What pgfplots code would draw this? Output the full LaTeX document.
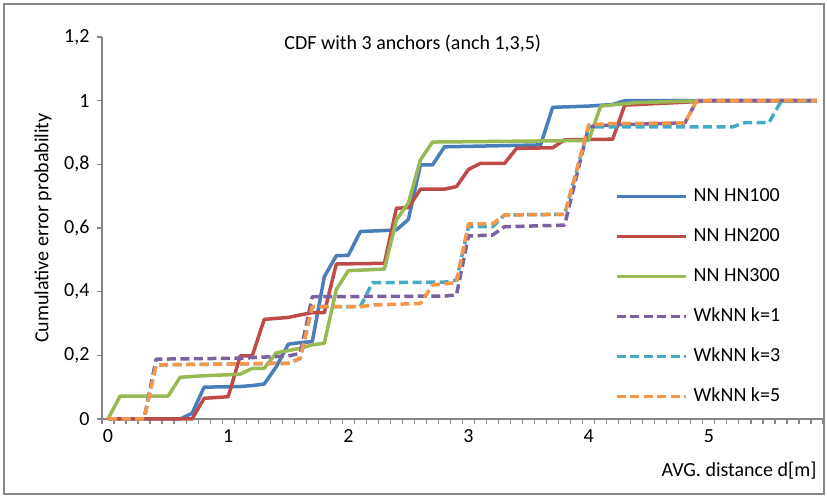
\documentclass[border=0pt]{standalone}
\usepackage{fontspec}
\setmainfont{Carlito}
\usepackage{pgfplots}
\pgfplotsset{compat=1.18}
\definecolor{cblue}{HTML}{4A7EBB}
\definecolor{cred}{HTML}{BE4B48}
\definecolor{cgreen}{HTML}{98B954}
\definecolor{cpurple}{HTML}{7D60A0}
\definecolor{caqua}{HTML}{46AAC5}
\definecolor{corange}{HTML}{F79646}
\definecolor{axgray}{HTML}{868686}
\begin{document}
\begin{tikzpicture}[font=\fontsize{20pt}{24pt}\selectfont]
\begin{axis}[name=ax, scale only axis, width=721pt, height=382pt,
  xmin=-0.05, xmax=5.95, ymin=0, ymax=1.2,
  axis x line=bottom, axis y line=left,
  axis line style={-, draw=axgray, line width=1.5pt},
  tick align=outside,
  xtick={0,1,2,3,4,5}, xticklabels={0,1,2,3,4,5},
  major x tick style={draw=none},
  minor xtick={-0.05,0.05,...,5.96},
  minor x tick style={draw=axgray, line width=1.2pt},
  minor tick length=5pt, major tick length=5pt,
  ytick={0,0.2,0.4,0.6,0.8,1,1.2},
  yticklabels={0,{0,2},{0,4},{0,6},{0,8},1,{1,2}},
  y tick style={draw=axgray, line width=1.2pt},
  yticklabel style={xshift=-4pt},
  xticklabel style={yshift=-2pt},
  clip=false,
  legend style={at={(axis description cs:0.7115,0.6126)}, anchor=north west,
    draw=none, fill=none, inner sep=0pt, row sep=17pt,
    nodes={inner sep=2pt, text height=14pt, text depth=5pt},
    /tikz/every odd column/.append style={column sep=4pt}},
  legend cell align=left,
  legend image code/.code={\draw[#1] (0pt,0pt) -- (69pt,0pt);},
  every axis plot/.append style={line width=3.5pt, line join=round},
]
\addplot[cblue] coordinates {(0,0) (0.6,0) (0.7,0.018) (0.8,0.100) (1.1,0.102) (1.2,0.105) (1.3,0.110) (1.4,0.164) (1.5,0.235) (1.6,0.240) (1.7,0.243) (1.8,0.447) (1.9,0.513) (2.0,0.514) (2.1,0.589) (2.3,0.592) (2.4,0.594) (2.5,0.627) (2.6,0.798) (2.7,0.798) (2.8,0.855) (3.6,0.861) (3.7,0.979) (4.0,0.983) (4.2,0.988) (4.3,1.0) (5.9,1.0)};
\addlegendentry{NN HN100}
\addplot[cred] coordinates {(0,0) (0.7,0) (0.8,0.065) (1.0,0.070) (1.1,0.198) (1.2,0.198) (1.3,0.313) (1.5,0.319) (1.6,0.327) (1.7,0.334) (1.8,0.334) (1.9,0.487) (2.3,0.489) (2.4,0.662) (2.5,0.664) (2.6,0.722) (2.8,0.722) (2.9,0.730) (3.0,0.784) (3.1,0.803) (3.3,0.803) (3.4,0.850) (3.7,0.852) (3.8,0.877) (4.2,0.879) (4.3,0.986) (4.9,0.997) (5.0,1.0) (5.9,1.0)};
\addlegendentry{NN HN200}
\addplot[cgreen] coordinates {(0,0) (0.1,0.072) (0.5,0.072) (0.6,0.131) (0.8,0.136) (1.0,0.139) (1.1,0.141) (1.2,0.159) (1.3,0.159) (1.4,0.208) (1.5,0.215) (1.6,0.222) (1.7,0.233) (1.8,0.238) (1.9,0.407) (2.0,0.466) (2.3,0.471) (2.4,0.625) (2.5,0.679) (2.6,0.814) (2.7,0.870) (3.5,0.873) (4.0,0.875) (4.1,0.983) (4.4,0.994) (5.0,1.0) (5.9,1.0)};
\addlegendentry{NN HN300}
\addplot[cpurple, dash pattern=on 9pt off 4.5pt] coordinates {(0,0) (0.3,0) (0.4,0.188) (1.1,0.191) (1.5,0.198) (1.6,0.206) (1.7,0.384) (2.8,0.386) (2.9,0.390) (3.0,0.575) (3.2,0.578) (3.3,0.604) (3.8,0.609) (3.9,0.765) (4.0,0.918) (4.2,0.924) (4.8,0.930) (4.9,1.0) (5.9,1.0)};
\addlegendentry{WkNN k=1}
\addplot[caqua, dash pattern=on 9pt off 4.5pt] coordinates {(0,0) (0.3,0) (0.4,0.170) (1.5,0.175) (1.6,0.190) (1.7,0.353) (2.1,0.353) (2.2,0.428) (2.8,0.430) (2.9,0.436) (3.0,0.604) (3.2,0.604) (3.3,0.641) (3.8,0.643) (3.9,0.78) (4.0,0.918) (5.2,0.918) (5.3,0.931) (5.5,0.931) (5.6,0.997) (5.9,1.0)};
\addlegendentry{WkNN k=3}
\addplot[corange, dash pattern=on 9pt off 4.5pt] coordinates {(0,0) (0.3,0) (0.4,0.170) (1.5,0.175) (1.6,0.191) (1.7,0.353) (2.1,0.353) (2.2,0.358) (2.6,0.363) (2.7,0.421) (2.9,0.428) (3.0,0.613) (3.2,0.613) (3.3,0.641) (3.8,0.643) (3.9,0.78) (4.0,0.924) (4.2,0.928) (4.8,0.930) (4.9,1.0) (5.9,1.0)};
\addlegendentry{WkNN k=5}
\node[anchor=center] at (axis description cs:0.431,0.984) {CDF with 3 anchors (anch 1,3,5)};
\node[anchor=east] at (axis description cs:0.9958,-0.136) {AVG. distance d[m]};
\node[rotate=90, anchor=center] at (axis description cs:-0.0818,0.5) {Cumulative error probability};
\end{axis}
\draw[axgray, line width=1.2pt] ([shift={(-98pt,-75pt)}]ax.south west) rectangle ([shift={(722pt,415pt)}]ax.south west);
\pgfresetboundingbox
\path ([shift={(-102pt,-78pt)}]ax.south west) rectangle ([shift={(725pt,419pt)}]ax.south west);
\end{tikzpicture}
\end{document}
